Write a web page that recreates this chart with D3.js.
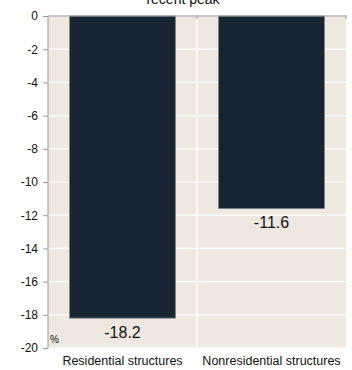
<!DOCTYPE html>
<html>
<head>
<meta charset="utf-8">
<script src="https://cdn.jsdelivr.net/npm/d3@7"></script>
<style>
  body { margin: 0; background: #fff; }
  svg { display: block; font-family: "Liberation Sans", Arial, sans-serif; }
</style>
</head>
<body>
<svg id="chart"></svg>
<script>
// data
var categories = ["Residential structures", "Nonresidential structures"];
var values = [-18.2, -11.6];
var yTicks = [0, -2, -4, -6, -8, -10, -12, -14, -16, -18, -20];
var titleText = "recent peak";
var unitLabel = "%";

var margin = {top: 16, right: 6, bottom: 22, left: 48},
    width = 352 - margin.left - margin.right,
    height = 370 - margin.top - margin.bottom;

var svg = d3.select("#chart")
    .attr("width", 352)
    .attr("height", 370);

// title, mostly cut off at top (as in the source)
svg.append("text")
    .attr("x", 183)
    .attr("y", 4)
    .attr("text-anchor", "middle")
    .style("font-size", "14px")
    .style("fill", "#111")
    .text(titleText);

var g = svg.append("g")
    .attr("transform", "translate(" + margin.left + "," + margin.top + ")");

var x = d3.scaleBand().domain(categories).range([0, width]).paddingInner(0).paddingOuter(0);
var y = d3.scaleLinear().domain([-20, 0]).range([height, 0]);

// background
g.append("rect")
    .attr("width", width)
    .attr("height", height)
    .attr("fill", "#EEE8E1");

// horizontal gridlines
g.selectAll(".hgrid")
    .data(yTicks)
    .enter().append("line")
    .attr("x1", 0).attr("x2", width)
    .attr("y1", function(d) { return y(d); })
    .attr("y2", function(d) { return y(d); })
    .attr("stroke", "#fff")
    .attr("stroke-width", 1.2);

// vertical gridline between categories
g.selectAll(".vgrid")
    .data(categories.slice(1))
    .enter().append("line")
    .attr("x1", function(d) { return x(d); })
    .attr("x2", function(d) { return x(d); })
    .attr("y1", 0).attr("y2", height)
    .attr("stroke", "#fff")
    .attr("stroke-width", 1.5);

// bars
var barW = x.bandwidth() * 0.71;
g.selectAll(".bar")
    .data(values)
    .enter().append("rect")
    .attr("x", function(d, i) { return x(categories[i]) + (x.bandwidth() - barW) / 2; })
    .attr("width", barW)
    .attr("y", y(0))
    .attr("height", function(d) { return y(d) - y(0); })
    .attr("fill", "#172632")
    .attr("stroke", "#7a7f84")
    .attr("stroke-width", 0.8);

// value labels
g.selectAll(".val")
    .data(values)
    .enter().append("text")
    .attr("x", function(d, i) { return x(categories[i]) + x.bandwidth() / 2; })
    .attr("y", function(d) { return y(d) + 19.5; })
    .attr("text-anchor", "middle")
    .style("font-size", "16px")
    .style("fill", "#111")
    .text(function(d) { return d.toFixed(1); });

// top line with small ticks at band edges
g.append("line")
    .attr("x1", 0).attr("x2", width)
    .attr("y1", 0).attr("y2", 0)
    .attr("stroke", "#9a9a9a")
    .attr("stroke-width", 1.2);
g.selectAll(".ttick")
    .data(categories.slice(1).concat(["end"]))
    .enter().append("line")
    .attr("x1", function(d) { return d === "end" ? width : x(d); })
    .attr("x2", function(d) { return d === "end" ? width : x(d); })
    .attr("y1", -1).attr("y2", 3)
    .attr("stroke", "#9a9a9a");

// y axis (plain hyphen minus signs like the source)
var yAxis = g.append("g")
    .call(d3.axisLeft(y).tickValues(yTicks).tickSize(5).tickPadding(5)
        .tickFormat(function(d) { return String(d); }));
yAxis.select(".domain").attr("stroke", "#9a9a9a").attr("d", "M0,0V" + height);
yAxis.selectAll(".tick line").attr("stroke", "#9a9a9a");
yAxis.selectAll(".tick text")
    .style("font-size", "12px")
    .style("font-family", "Liberation Sans, Arial, sans-serif")
    .attr("fill", "#111");

// unit label
g.append("text")
    .attr("x", 2)
    .attr("y", height - 5)
    .style("font-size", "10px")
    .style("fill", "#111")
    .text(unitLabel);

// category labels
g.selectAll(".cat")
    .data(categories)
    .enter().append("text")
    .attr("x", function(d) { return x(d) + x.bandwidth() / 2; })
    .attr("y", height + 17)
    .attr("text-anchor", "middle")
    .style("font-size", "12.5px")
    .style("fill", "#111")
    .text(function(d) { return d; });
</script>
</body>
</html>
